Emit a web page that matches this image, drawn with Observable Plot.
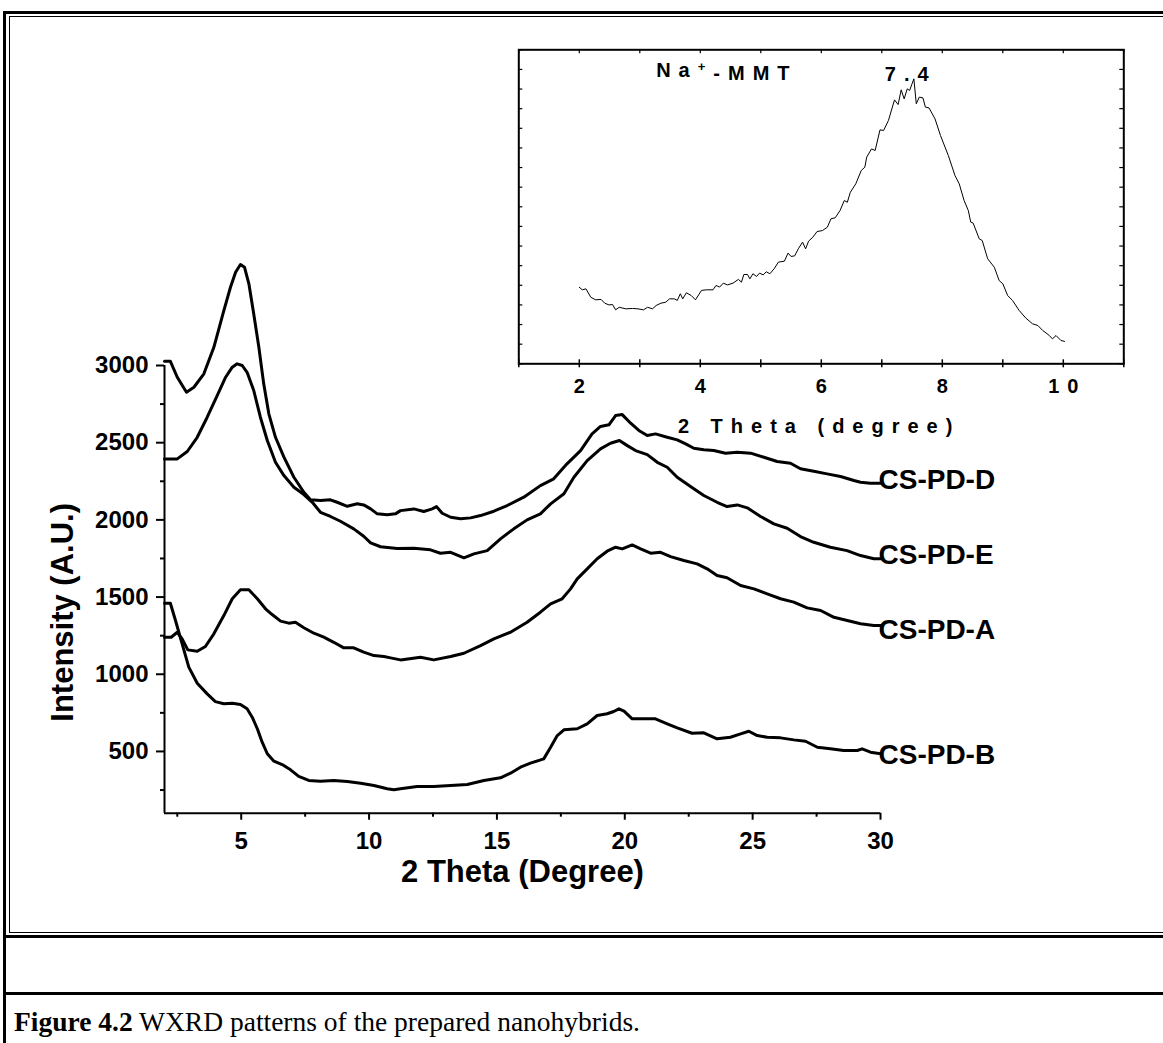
<!DOCTYPE html>
<html>
<head>
<meta charset="utf-8">
<script src="https://cdn.jsdelivr.net/npm/d3@7"></script>
<script src="https://cdn.jsdelivr.net/npm/@observablehq/plot@0.6"></script>
<style>
html, body { margin: 0; padding: 0; background: #fff; }
#page { position: relative; width: 1163px; height: 1043px; overflow: hidden; background: #fff; }
#page svg { position: absolute; left: 0; top: 0; }
.ln { position: absolute; background: #000; }
#caption { position: absolute; left: 14px; top: 1008px; font-family: "Liberation Serif", "Times New Roman", serif; font-size: 27.5px; line-height: 27px; white-space: nowrap; color: #000; }
</style>
</head>
<body>
<div id="page">
  <div class="ln" style="left:3px;top:11px;width:1160px;height:3px"></div>
  <div class="ln" style="left:9px;top:16px;width:1154px;height:1px"></div>
  <div class="ln" style="left:3px;top:11px;width:3px;height:1032px"></div>
  <div class="ln" style="left:9px;top:16px;width:1px;height:917px"></div>
  <div class="ln" style="left:9px;top:932px;width:1154px;height:1px"></div>
  <div class="ln" style="left:3px;top:935px;width:1160px;height:3px"></div>
  <div class="ln" style="left:3px;top:992px;width:1160px;height:3px"></div>
  <div id="caption"><b>Figure 4.2</b> WXRD patterns of the prepared nanohybrids.</div>
</div>
<script>
// ---------- main chart data ----------
const seriesNames = ["CS-PD-D", "CS-PD-E", "CS-PD-A", "CS-PD-B"];

const dX = [2.0,2.23,2.5,2.86,3.15,3.54,3.93,4.32,4.58,4.78,4.97,5.13,5.3,5.49,5.69,5.88,6.08,6.34,6.67,7.06,7.45,7.71,8.1,8.49,8.75,9.15,9.54,9.79,10.06,10.32,10.71,11.03,11.23,11.75,12.14,12.47,12.64,12.86,13.19,13.58,13.97,14.36,14.88,15.4,16.05,16.7,17.22,17.74,18.27,18.72,19.05,19.38,19.64,19.9,20.23,20.55,20.88,21.2,21.66,22.05,22.38,22.7,23.09,23.48,23.94,24.4,24.92,25.44,25.96,26.48,26.87,27.39,27.91,28.44,28.96,29.22,29.61,30];
const dY = [3027,3027,2924,2827,2859,2946,3118,3356,3507,3604,3654,3636,3529,3334,3118,2881,2687,2535,2406,2276,2179,2130,2125,2130,2114,2088,2104,2097,2071,2039,2033,2039,2060,2071,2054,2071,2086,2043,2017,2007,2013,2028,2056,2093,2147,2222,2266,2363,2449,2557,2605,2616,2676,2682,2626,2579,2546,2557,2535,2518,2492,2464,2454,2449,2432,2438,2432,2406,2378,2367,2331,2315,2298,2281,2255,2244,2237,2237];

const eX = [2.0,2.5,2.89,3.28,3.67,4.06,4.39,4.65,4.84,5.04,5.23,5.49,5.75,6.02,6.34,6.67,7.06,7.45,7.78,8.1,8.49,8.88,9.4,9.79,10.06,10.45,11.1,11.75,12.4,12.79,13.19,13.71,14.1,14.62,15.14,15.66,16.18,16.7,17.1,17.62,18.01,18.53,19.05,19.44,19.79,20.1,20.42,20.88,21.27,21.66,22.05,22.57,23.09,23.61,24.0,24.4,24.79,25.31,25.83,26.35,26.87,27.39,28.04,28.69,29.22,29.74,30];
const eY = [2395,2395,2443,2535,2665,2805,2924,2989,3011,3000,2956,2838,2665,2514,2373,2287,2211,2164,2114,2049,2022,1991,1942,1894,1851,1826,1814,1816,1806,1784,1790,1754,1780,1801,1877,1942,2000,2039,2104,2169,2276,2384,2460,2496,2514,2481,2449,2423,2373,2341,2276,2216,2158,2114,2086,2097,2078,2022,1974,1946,1892,1855,1823,1801,1769,1748,1748];

const aX = [2.0,2.26,2.5,2.69,2.91,3.28,3.6,3.93,4.32,4.65,4.97,5.3,5.63,5.95,6.21,6.54,6.86,7.12,7.45,7.84,8.23,8.62,9.01,9.4,9.79,10.19,10.58,10.84,11.23,12.01,12.53,13.19,13.71,14.36,14.88,15.53,16.18,16.7,17.1,17.55,17.88,18.14,18.53,18.92,19.31,19.64,19.9,20.29,20.62,21.01,21.4,21.79,22.31,22.83,23.22,23.61,24.0,24.53,25.05,25.57,26.09,26.61,27.13,27.66,28.18,28.7,29.22,29.74,30];
const aY = [1240,1240,1272,1229,1158,1149,1180,1262,1380,1489,1547,1547,1489,1424,1387,1344,1331,1337,1301,1266,1240,1207,1171,1171,1143,1121,1115,1106,1093,1110,1093,1115,1136,1186,1229,1272,1337,1402,1456,1489,1553,1618,1683,1748,1797,1823,1812,1838,1812,1784,1790,1762,1737,1715,1683,1640,1625,1575,1553,1521,1489,1467,1430,1413,1369,1348,1327,1316,1316];

const bX = [2.0,2.23,2.43,2.69,2.95,3.28,3.67,3.99,4.32,4.65,4.97,5.23,5.43,5.63,5.82,6.02,6.28,6.6,6.93,7.25,7.64,8.1,8.62,9.15,9.67,10.19,10.71,10.97,11.23,11.88,12.53,13.19,13.84,14.49,15.14,15.53,15.92,16.31,16.83,17.1,17.36,17.62,18.14,18.53,18.92,19.31,19.57,19.77,19.97,20.29,20.62,21.2,21.66,22.05,22.63,23.09,23.61,24.13,24.53,24.85,25.18,25.57,26.09,26.61,27.07,27.53,28.04,28.56,29.09,29.28,29.61,30];
const bY = [1460,1460,1348,1197,1046,942,873,823,809,812,804,776,722,647,560,485,437,415,381,338,312,307,312,305,294,279,258,252,258,273,273,279,286,312,329,359,398,424,452,527,603,640,647,679,733,744,759,776,761,711,711,711,679,653,618,621,582,592,614,631,603,592,588,575,566,527,517,506,506,517,495,485];

const labelY = [2261, 1775, 1289, 479];

const xMajor = [5, 10, 15, 20, 25, 30];
const xMinor = [2.5, 7.5, 12.5, 17.5, 22.5, 27.5];
const yMajor = [500, 1000, 1500, 2000, 2500, 3000];
const yMinor = [250, 750, 1250, 1750, 2250, 2750];
const xTitle = "2 Theta (Degree)";
const yTitle = "Intensity (A.U.)";

// ---------- inset data (Na+-MMT) ----------
const inX = [2.0,2.05,2.11,2.19,2.27,2.36,2.42,2.49,2.55,2.6,2.66,2.77,2.88,2.97,3.06,3.13,3.21,3.27,3.35,3.43,3.49,3.57,3.62,3.67,3.71,3.77,3.85,3.92,4.02,4.1,4.21,4.26,4.32,4.38,4.45,4.54,4.63,4.68,4.72,4.78,4.82,4.87,4.93,4.98,5.04,5.09,5.15,5.22,5.29,5.39,5.45,5.5,5.56,5.62,5.69,5.74,5.79,5.86,5.93,6.02,6.1,6.16,6.23,6.31,6.38,6.43,6.48,6.57,6.66,6.72,6.75,6.83,6.89,6.97,7.03,7.11,7.21,7.27,7.32,7.37,7.42,7.46,7.5,7.53,7.57,7.62,7.68,7.72,7.78,7.88,7.97,8.1,8.21,8.28,8.36,8.43,8.47,8.51,8.61,8.66,8.75,8.86,8.94,9.0,9.08,9.16,9.27,9.38,9.49,9.58,9.66,9.77,9.82,9.88,9.96,10.02];
const inY = [3.9,3.77,3.82,3.39,3.26,3.28,3.09,3.0,3.02,2.75,2.88,2.8,2.82,2.8,2.75,2.88,2.8,2.97,3.09,3.14,3.31,3.31,3.23,3.57,3.31,3.62,3.48,3.26,3.74,3.77,3.77,3.99,3.91,4.11,4.02,4.11,4.3,4.16,4.55,4.55,4.33,4.59,4.45,4.62,4.53,4.69,4.59,4.84,5.18,5.23,5.64,5.47,5.5,5.86,6.2,5.86,6.25,6.45,6.74,6.79,6.96,7.39,7.44,7.81,8.32,8.23,8.74,9.17,9.85,10.02,10.53,10.95,10.87,11.92,11.89,12.4,13.45,13.21,13.96,13.5,14.01,13.93,14.27,14.52,13.25,13.59,13.55,13.08,13.04,12.48,11.63,10.61,9.59,9.17,8.32,7.81,7.22,7.17,6.37,6.28,5.35,4.92,4.24,4.08,3.48,3.23,2.72,2.33,2.04,1.95,1.7,1.44,1.27,1.44,1.19,1.14];

const inXLabels = [2, 4, 6, 8, 10];
const inXTicks = [1, 2, 3, 4, 5, 6, 7, 8, 9, 10, 11];
const inYTicks = d3.range(0, 17);
const inNotes = ["Na+-MMT", "7.4", "2 Theta (degree)"];
const inNoteX = [3.27, 7.05, 3.63];
const inNoteY = [14.95, 14.74, -3.19];

// ---------- build ----------
const W = 1163, H = 1043;
const series = [[dX, dY], [eX, eY], [aX, aY], [bX, bY]];
const rows = series.flatMap(([xs, ys], k) => xs.map((x, i) => ({s: seriesNames[k], x, y: ys[i]})));
const insetRows = inX.map((x, i) => ({x, y: inY[i]}));

const font = "'Liberation Sans', Arial, Helvetica, sans-serif";

const main = Plot.plot({
  width: W, height: H,
  marginLeft: 164, marginRight: W - 880, marginTop: 365, marginBottom: H - 812.7,
  x: {domain: [2, 30]},
  y: {domain: [100, 3000]},
  style: `background: transparent; overflow: visible; font-family: ${font}; color: #000;`,
  marks: [
    Plot.ruleY([100], {stroke: "#000", strokeWidth: 2}),
    Plot.ruleX([2], {y1: 100, y2: 3000, stroke: "#000", strokeWidth: 2}),
    Plot.axisX(xMajor, {tickSize: 7, tickPadding: 12, fontSize: 24, fontWeight: "bold", strokeWidth: 2, tickFormat: d => String(d), label: null}),
    Plot.axisX(xMinor, {tickSize: 4, tickFormat: () => "", strokeWidth: 2, label: null}),
    Plot.axisY(yMajor, {tickSize: 8, tickPadding: 8, fontSize: 24, fontWeight: "bold", strokeWidth: 2, tickFormat: d => String(d), label: null}),
    Plot.axisY(yMinor, {tickSize: 4, tickFormat: () => "", strokeWidth: 2, label: null}),
    Plot.line(rows, {x: "x", y: "y", z: "s", stroke: "#000", strokeWidth: 3, strokeLinejoin: "round", strokeLinecap: "round"}),
    Plot.text(seriesNames, {x: 30, y: (d, i) => labelY[i], text: d => d, textAnchor: "start", dx: -2, fontSize: 28, fontWeight: "bold", fill: "#000"}),
    Plot.text([xTitle], {frameAnchor: "bottom", text: d => d, dy: 69, fontSize: 31, fontWeight: "bold", fill: "#000"}),
    Plot.text([yTitle], {frameAnchor: "left", text: d => d, textAnchor: "middle", dx: -101, dy: 23, rotate: -90, fontSize: 31, fontWeight: "bold", fill: "#000"})
  ]
});

const inset = Plot.plot({
  width: W, height: 450,
  marginLeft: 518.3, marginRight: W - 1123.3, marginTop: 49.3, marginBottom: 450 - 363.3,
  x: {domain: [1, 11]},
  y: {domain: [0, 16], axis: null},
  style: `background: transparent; overflow: visible; font-family: ${font}; color: #000; letter-spacing: 8px;`,
  marks: [
    Plot.frame({stroke: "#000", strokeWidth: 2}),
    Plot.ruleX(inXTicks, {x: d => d, y1: 0, y2: 0, insetTop: -4, insetBottom: -4, stroke: "#000", strokeWidth: 1.5}),
    Plot.ruleX(inXTicks, {x: d => d, y1: 16, y2: 16, insetBottom: -4, stroke: "#000", strokeWidth: 1.2}),
    Plot.ruleY(inYTicks, {y: d => d, x1: 1, x2: 1, insetRight: -4, stroke: "#000", strokeWidth: 1.2}),
    Plot.ruleY(inYTicks, {y: d => d, x1: 11, x2: 11, insetLeft: -4, stroke: "#000", strokeWidth: 1.2}),
    Plot.axisX(inXLabels, {tickSize: 0, tickPadding: 15, dx: 4, fontSize: 20, fontWeight: "bold", tickFormat: d => String(d), label: null}),
    Plot.line(insetRows, {x: "x", y: "y", stroke: "#000", strokeWidth: 1}),
    Plot.text(inNotes, {x: (d, i) => inNoteX[i], y: (d, i) => inNoteY[i], text: d => d, textAnchor: "start", fontSize: 20, fontWeight: "bold", fill: "#000"})
  ]
});

// superscript "+" in Na+-MMT
d3.select(inset).selectAll("text").filter(function() { return this.textContent === "Na+-MMT"; }).each(function() {
  const t = d3.select(this);
  t.text(null);
  t.append("tspan").text("Na");
  t.append("tspan").attr("dy", "-0.45em").attr("font-size", "13px").text("+");
  t.append("tspan").attr("dy", "0.45em").text("-MMT");
});

const page = document.getElementById("page");
page.appendChild(main);
page.appendChild(inset);
</script>
</body>
</html>
